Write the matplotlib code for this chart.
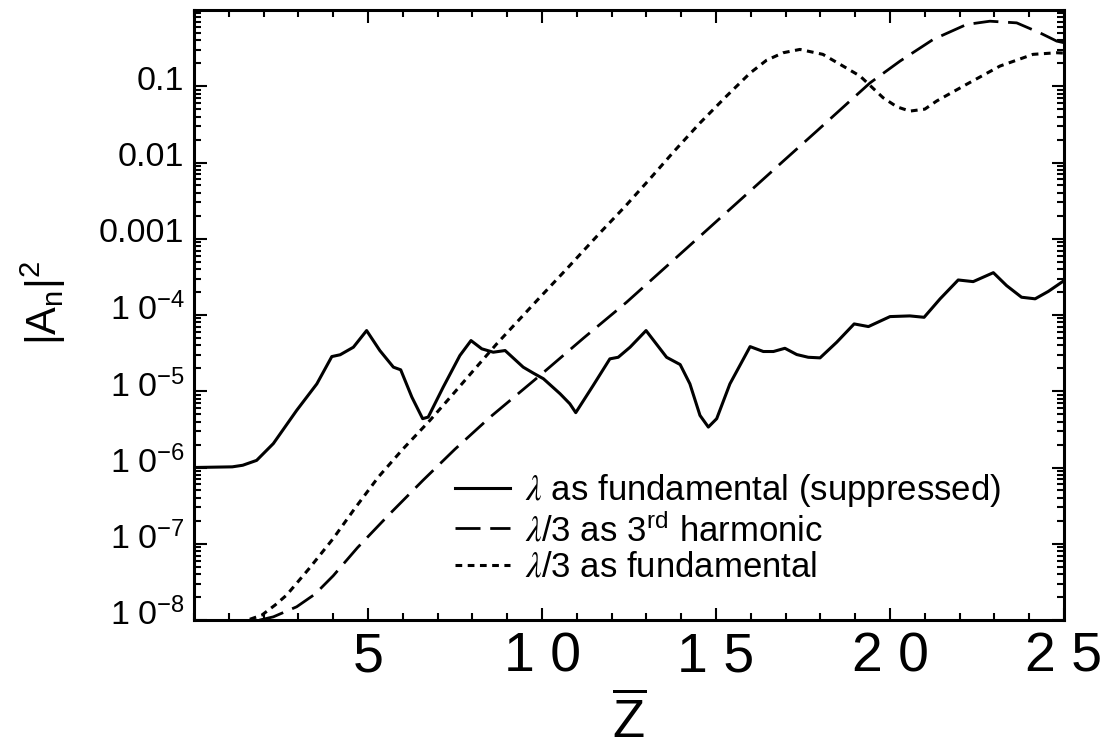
import matplotlib
matplotlib.use('Agg')
import numpy as np
import matplotlib.pyplot as plt
from matplotlib.ticker import LogLocator, MultipleLocator, NullFormatter
from matplotlib.transforms import ScaledTranslation

plt.rcParams['font.family'] = ['Liberation Sans', 'DejaVu Sans']
plt.rcParams['mathtext.fontset'] = 'custom'
plt.rcParams['mathtext.rm'] = 'Liberation Sans'
plt.rcParams['mathtext.sf'] = 'Liberation Sans'
plt.rcParams['mathtext.it'] = 'STIXGeneral:italic'

# lambda as fundamental (suppressed) - solid
z_fund = [0, 1.1, 1.4, 1.8, 2.28, 2.95, 3.53, 3.96, 4.20, 4.58, 4.96, 5.34, 5.73, 5.94,
          6.26, 6.57, 6.73, 7.16, 7.64, 7.96, 8.27, 8.60, 8.94, 9.46, 9.75, 10.04,
          10.52, 10.80, 10.97, 11.47, 11.95, 12.19, 12.53, 12.99, 13.58, 13.97, 14.25,
          14.54, 14.78, 15.02, 15.40, 15.98, 16.36, 16.65, 16.98, 17.32, 17.65, 17.99,
          18.47, 18.97, 19.38, 20.00, 20.57, 20.98, 21.44, 21.96, 22.39, 22.97, 23.35,
          23.78, 24.17, 24.55, 25.0]
amp_fund = [1.0e-6, 1.02e-6, 1.07e-6, 1.24e-6, 2.06e-6, 5.61e-6, 1.25e-5, 2.85e-5, 3.01e-5,
            3.78e-5, 6.25e-5, 3.42e-5, 2.07e-5, 1.91e-5, 8.38e-6, 4.37e-6, 4.58e-6,
            1.13e-5, 2.94e-5, 4.62e-5, 3.60e-5, 3.25e-5, 3.42e-5, 2.07e-5, 1.73e-5,
            1.46e-5, 9.27e-6, 6.85e-6, 5.24e-6, 1.19e-5, 2.66e-5, 2.79e-5, 3.78e-5,
            6.25e-5, 2.79e-5, 2.24e-5, 1.25e-5, 4.82e-6, 3.39e-6, 4.37e-6, 1.25e-5,
            3.85e-5, 3.32e-5, 3.32e-5, 3.66e-5, 3.03e-5, 2.79e-5, 2.74e-5, 4.40e-5,
            7.64e-5, 7.05e-5, 9.53e-5, 9.73e-5, 9.33e-5, 1.63e-4, 2.88e-4, 2.74e-4,
            3.59e-4, 2.43e-4, 1.71e-4, 1.63e-4, 2.04e-4, 2.82e-4]

# lambda/3 as 3rd harmonic - dashed
z_harm = [0, 1.0, 1.6, 2.28, 2.95, 3.48, 4.0, 4.7, 5.6, 6.58, 7.5, 8.51, 9.94, 11.2, 12.43,
          14.2, 15.98, 16.93, 17.89, 18.85, 19.43, 20.29, 21.24, 22.20, 22.87, 23.64,
          24.31, 24.79, 25.0]
amp_harm = [5.0e-9, 7.1e-9, 9.3e-9, 1.10e-8, 1.49e-8, 2.19e-8, 3.80e-8, 8.91e-8, 2.40e-7,
            6.79e-7, 1.74e-6, 4.58e-6, 1.61e-5, 5.01e-5, 1.47e-4, 7.82e-4, 4.22e-3,
            1.04e-2, 2.57e-2, 6.41e-2, 0.111, 0.214, 0.411, 0.646, 0.713, 0.678, 0.501,
            0.391, 0.372]

# lambda/3 as fundamental - dotted
z_third = [0, 0.8, 1.3, 1.6, 1.95, 2.33, 2.66, 3.3, 4.0, 4.6, 5.30, 6.0, 6.78, 7.4, 8.03,
           8.70, 9.85, 10.7, 11.67, 12.4, 13.10, 13.8, 14.54, 15.3, 15.98, 16.45, 16.93,
           17.41, 18.07, 18.65, 19.14, 19.80, 20.2, 20.57, 21.0, 21.34, 22.20, 23.16,
           24.11, 24.79, 25.0]
amp_third = [5.0e-9, 6.3e-9, 8.7e-9, 1.02e-8, 1.16e-8, 1.57e-8, 2.12e-8, 4.68e-8, 1.17e-7,
             2.82e-7, 7.52e-7, 1.74e-6, 4.15e-6, 8.71e-6, 1.87e-5, 4.19e-5, 1.54e-4,
             3.98e-4, 1.20e-3, 2.69e-3, 6.10e-3, 1.41e-2, 3.30e-2, 7.41e-2, 0.149, 0.219,
             0.275, 0.304, 0.262, 0.184, 0.136, 0.0708, 0.0537, 0.0472, 0.0501, 0.064,
             0.106, 0.184, 0.262, 0.275, 0.272]

x_ticks = [5, 10, 15, 20, 25]
x_ticklabels = ['5', '1 0', '1 5', '2 0', '2 5']
y_ticks = [1e-8, 1e-7, 1e-6, 1e-5, 1e-4, 1e-3, 1e-2, 1e-1]
y_ticklabels = [r'$\mathrm{1\ 0^{-8}}$', r'$\mathrm{1\ 0^{-7}}$', r'$\mathrm{1\ 0^{-6}}$',
                r'$\mathrm{1\ 0^{-5}}$', r'$\mathrm{1\ 0^{-4}}$', '0.001', '0.01', '0.1']

fig = plt.figure(figsize=(11.05, 7.5), dpi=100)
ax = fig.add_axes([194 / 1105, 130 / 750, 870 / 1105, 610 / 750])

ax.plot(z_fund, amp_fund, color='black', lw=2.2,
        label=r'$\lambda$ as fundamental (suppressed)')
ax.plot(z_harm, amp_harm, color='black', lw=2.0, ls=(0, (9, 3.5)),
        label=r'$\lambda/3$ as $3^{\mathrm{rd}}$ harmonic')
ax.plot(z_third, amp_third, color='black', lw=2.2, ls=(0, (2.2, 1.8)),
        label=r'$\lambda/3$ as fundamental')

ax.set_yscale('log')
ax.set_xlim(0, 25)
ax.set_ylim(1e-8, 1)

ax.set_xticks(x_ticks)
ax.set_xticklabels(x_ticklabels)
ax.xaxis.set_minor_locator(MultipleLocator(1))
ax.set_yticks(y_ticks)
ax.set_yticklabels(y_ticklabels)
ax.yaxis.set_minor_locator(LogLocator(base=10, subs=np.arange(2, 10), numticks=20))
ax.yaxis.set_minor_formatter(NullFormatter())

for s in ax.spines.values():
    s.set_linewidth(2.2)
ax.tick_params(which='both', direction='in', top=True, right=True, width=1.5)
ax.tick_params(which='major', length=9)
ax.tick_params(which='minor', length=5)
ax.tick_params(axis='x', which='major', labelsize=40, pad=8)
ax.tick_params(axis='y', which='major', labelsize=24.5, pad=7)

# IDL puts the y labels slightly above their ticks
for lbl in ax.get_yticklabels():
    lbl.set_transform(lbl.get_transform() + ScaledTranslation(0, 6 / 72, fig.dpi_scale_trans))

ax.set_ylabel(r'$\mathrm{|A_n|^2}$', fontsize=30)
ax.yaxis.set_label_coords(-0.145, 0.52)
ax.set_xlabel(r'$\overline{\mathrm{Z}}$', fontsize=38)
ax.xaxis.set_label_coords(0.5, -0.122)

ax.legend(loc='upper left', bbox_to_anchor=(0.30, 0.243), frameon=False, fontsize=25,
          handlelength=1.58, handletextpad=0.45, labelspacing=0.1, borderpad=0,
          borderaxespad=0)

fig.savefig('out.png', dpi=100)
